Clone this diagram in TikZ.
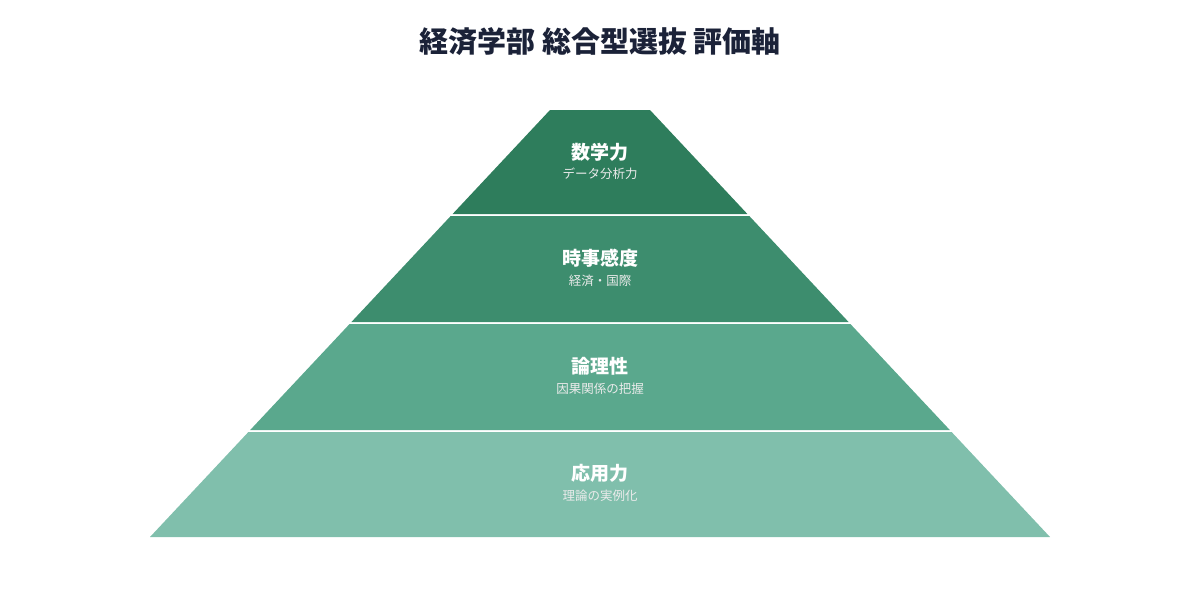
\documentclass[tikz,border=0pt]{standalone}
\usepackage{fontspec}
\setmainfont{Noto Sans CJK JP}
\newfontfamily\cjkb{Noto Sans CJK JP}[BoldFont={* Bold}]
\definecolor{cA}{HTML}{2E7D5C}
\definecolor{cB}{HTML}{3D8D6E}
\definecolor{cC}{HTML}{5AA88D}
\definecolor{cD}{HTML}{80BFAC}
\definecolor{ttl}{HTML}{1B2238}
\begin{document}
\begin{tikzpicture}[x=1pt,y=-1pt,
  lay/.style={draw=none},
  head/.style={text=white,font=\fontsize{19}{22}\selectfont\bfseries},
  sub/.style={text=white!92!black,font=\fontsize{12.5}{15}\selectfont}]
\useasboundingbox (0,0) rectangle (1200,600);
\node[text=ttl,font=\fontsize{29}{34}\selectfont\bfseries] (title) at (600,42) {経済学部 総合型選抜 評価軸};
\fill[cA] (550,110) -- (650,110) -- (747.4,214) -- (452.6,214) -- cycle;
\fill[cB] (450.7,216) -- (749.3,216) -- (848.6,322) -- (351.4,322) -- cycle;
\fill[cC] (349.6,324) -- (850.4,324) -- (949.8,430) -- (250.2,430) -- cycle;
\fill[cD] (248.4,432) -- (951.6,432) -- (1050,537) -- (150,537) -- cycle;
\node[head] (h1) at (600,152) {数学力};
\node[sub] (s1) at (600,174) {データ分析力};
\node[head] (h2) at (600,258) {時事感度};
\node[sub] (s2) at (600,281) {経済・国際};
\node[head] (h3) at (600,366) {論理性};
\node[sub] (s3) at (600,389) {因果関係の把握};
\node[head] (h4) at (600,473) {応用力};
\node[sub] (s4) at (600,496) {理論の実例化};
\end{tikzpicture}
\end{document}
